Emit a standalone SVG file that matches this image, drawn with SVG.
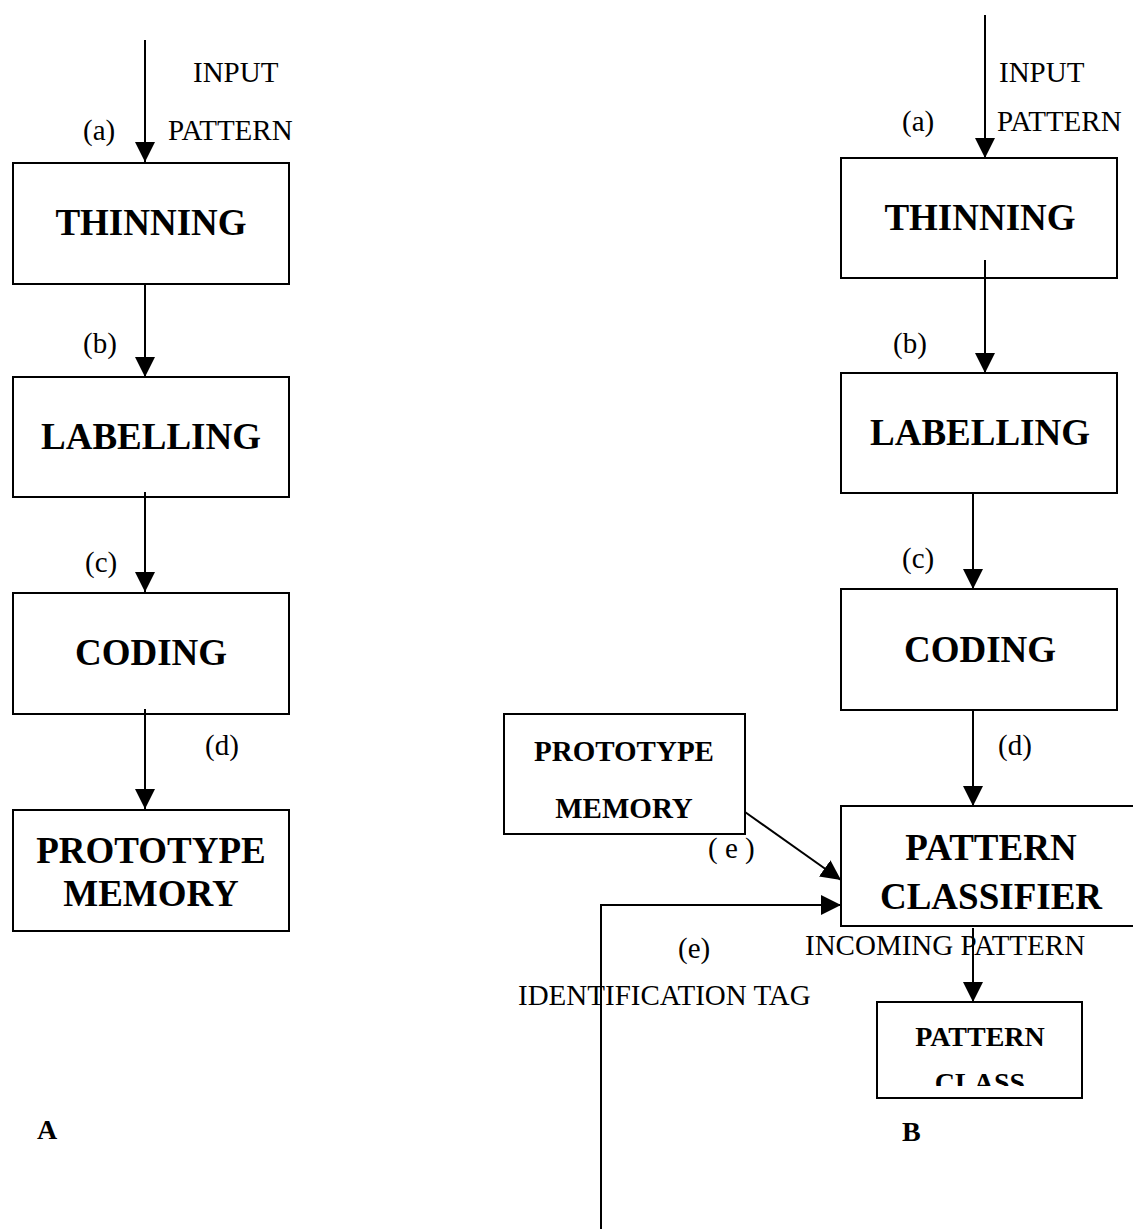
<svg xmlns="http://www.w3.org/2000/svg" width="1133" height="1229" viewBox="0 0 1133 1229">
  <style>
    .box { fill: #fff; stroke: #000; stroke-width: 2; }
    .title { font-family: "Liberation Serif", "Times New Roman", serif; font-weight: bold; font-size: 37px; text-anchor: middle; fill: #000; }
    .title-sm { font-family: "Liberation Serif", "Times New Roman", serif; font-weight: bold; font-size: 29px; text-anchor: middle; fill: #000; }
    .title-xs { font-family: "Liberation Serif", "Times New Roman", serif; font-weight: bold; font-size: 28px; text-anchor: middle; fill: #000; }
    .lbl { font-family: "Liberation Serif", "Times New Roman", serif; font-size: 29px; fill: #000; }
    .tag { font-family: "Liberation Serif", "Times New Roman", serif; font-weight: bold; font-size: 28px; fill: #000; }
    .wire { fill: none; stroke: #000; stroke-width: 2; }
  </style>
  <defs>
    <marker id="arrow" markerUnits="userSpaceOnUse" markerWidth="20" markerHeight="20" refX="20" refY="10" orient="auto">
      <path d="M0,0 L20,10 L0,20 Z" fill="#000"/>
    </marker>
    <clipPath id="classClip">
      <rect x="877" y="1002" width="205" height="84"/>
    </clipPath>
  </defs>

  <rect width="1133" height="1229" fill="#fff"/>

  <!-- Panel A: training pipeline -->
  <g id="a-thinning">
    <rect class="box" x="13" y="163" width="276" height="121"/>
    <text class="title" x="151" y="235">THINNING</text>
  </g>
  <g id="a-labelling">
    <rect class="box" x="13" y="377" width="276" height="120"/>
    <text class="title" x="151" y="449">LABELLING</text>
  </g>
  <g id="a-coding">
    <rect class="box" x="13" y="593" width="276" height="121"/>
    <text class="title" x="151" y="665">CODING</text>
  </g>
  <g id="a-memory">
    <rect class="box" x="13" y="810" width="276" height="121"/>
    <text class="title" x="151" y="863">PROTOTYPE</text>
    <text class="title" x="151" y="906">MEMORY</text>
  </g>

  <!-- Panel B: recognition pipeline -->
  <g id="b-thinning">
    <rect class="box" x="841" y="158" width="276" height="120"/>
    <text class="title" x="980" y="230">THINNING</text>
  </g>
  <g id="b-labelling">
    <rect class="box" x="841" y="373" width="276" height="120"/>
    <text class="title" x="980" y="445">LABELLING</text>
  </g>
  <g id="b-coding">
    <rect class="box" x="841" y="589" width="276" height="121"/>
    <text class="title" x="980" y="662">CODING</text>
  </g>
  <g id="b-memory">
    <rect class="box" x="504" y="714" width="241" height="120"/>
    <text class="title-sm" x="624" y="761">PROTOTYPE</text>
    <text class="title-sm" x="624" y="818">MEMORY</text>
  </g>
  <g id="b-classifier">
    <rect class="box" x="841" y="806" width="300" height="120"/>
    <text class="title" x="991" y="860">PATTERN</text>
    <text class="title" x="991" y="909">CLASSIFIER</text>
  </g>
  <g id="b-class">
    <rect class="box" x="877" y="1002" width="205" height="96"/>
    <text class="title-xs" x="980" y="1046">PATTERN</text>
    <text class="title-xs" x="980" y="1092" clip-path="url(#classClip)">CLASS</text>
  </g>

  <!-- Connectors -->
  <g id="connectors">
    <line class="wire" x1="145" y1="40" x2="145" y2="162" marker-end="url(#arrow)"/>
    <line class="wire" x1="145" y1="284" x2="145" y2="377" marker-end="url(#arrow)"/>
    <line class="wire" x1="145" y1="492" x2="145" y2="592" marker-end="url(#arrow)"/>
    <line class="wire" x1="145" y1="709" x2="145" y2="809" marker-end="url(#arrow)"/>

    <line class="wire" x1="985" y1="15" x2="985" y2="158" marker-end="url(#arrow)"/>
    <line class="wire" x1="985" y1="260" x2="985" y2="373" marker-end="url(#arrow)"/>
    <line class="wire" x1="973" y1="493" x2="973" y2="589" marker-end="url(#arrow)"/>
    <line class="wire" x1="973" y1="710" x2="973" y2="806" marker-end="url(#arrow)"/>
    <line class="wire" x1="745" y1="812" x2="841" y2="880" marker-end="url(#arrow)"/>
    <polyline class="wire" points="601,1229 601,905 841,905" marker-end="url(#arrow)"/>
    <line class="wire" x1="973" y1="928" x2="973" y2="1002" marker-end="url(#arrow)"/>
  </g>

  <!-- Edge labels, panel A -->
  <g id="labels-a">
    <text class="lbl" x="193" y="82">INPUT</text>
    <text class="lbl" x="168" y="140">PATTERN</text>
    <text class="lbl" x="83" y="140">(a)</text>
    <text class="lbl" x="83" y="353">(b)</text>
    <text class="lbl" x="85" y="572">(c)</text>
    <text class="lbl" x="205" y="755">(d)</text>
    <text class="tag" x="37" y="1139">A</text>
  </g>

  <!-- Edge labels, panel B -->
  <g id="labels-b">
    <text class="lbl" x="999" y="82">INPUT</text>
    <text class="lbl" x="997" y="131">PATTERN</text>
    <text class="lbl" x="902" y="131">(a)</text>
    <text class="lbl" x="893" y="353">(b)</text>
    <text class="lbl" x="902" y="568">(c)</text>
    <text class="lbl" x="998" y="755">(d)</text>
    <text class="lbl" x="708" y="858">( e )</text>
    <text class="lbl" x="678" y="958">(e)</text>
    <text class="lbl" x="805" y="955">INCOMING PATTERN</text>
    <text class="lbl" x="518" y="1005">IDENTIFICATION TAG</text>
    <text class="tag" x="902" y="1141">B</text>
  </g>
</svg>
